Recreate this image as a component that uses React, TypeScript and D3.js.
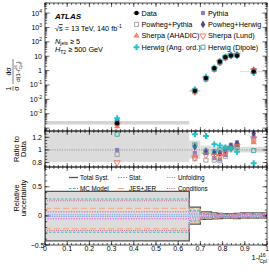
import React from 'react'
import * as d3 from 'd3'

// bin edges of 1-l (x axis)
const edges = [0, 0.65, 0.7, 0.75, 0.775, 0.8, 0.825, 0.85, 0.88, 1.0]
const dataVals = [2.2e-4, 0.039, 0.3, 1.45, 4.2, 8.5, 11, 11, 0.85]

// ratio MC / data
const pythia = [1.0, 0.95, 0.95, 0.87, 0.85, 0.92, 1.08, 1.12, 1.2]
const powhegPythia = [0.93, 0.86, 0.84, 0.84, 0.83, 0.9, 1.05, 1.08, 1.15]
const sherpaAhadic = [0.6, 0.9, 0.97, 0.95, 0.93, 0.97, 1.05, 1.08, 1.12]
const powhegHerwig = [1.4, 1.05, 0.98, 0.96, 0.95, 1.0, 1.06, 1.1, 1.26]
const sherpaLund = [0.8, 0.88, 0.92, 0.9, 0.9, 0.95, 1.02, 1.06, 1.18]
const herwigAng = [2.2, 1.25, 1.22, 1.09, 1.07, 1.04, 1.02, 0.97, 0.79]
const herwigDipole = [1.25, 1.08, 0.98, 0.97, 1.0, 1.03, 1.03, 1.04, 0.99]

// relative uncertainties per bin
const totUp = [0.42, 0.15, 0.07, 0.05, 0.045, 0.04, 0.04, 0.045, 0.05]
const totDn = [0.43, 0.14, 0.06, 0.05, 0.045, 0.04, 0.04, 0.045, 0.04]
const bandDn = [0.19, 0.14, 0.06, 0.05, 0.045, 0.04, 0.04, 0.045, 0.04]
const statUp = [0.07, 0.035, 0.02, 0.015, 0.012, 0.01, 0.01, 0.012, 0.015]
const statDn = [0.05, 0.035, 0.02, 0.015, 0.012, 0.01, 0.01, 0.012, 0.015]
const unfUp = [0.02, 0.015, 0.01, 0.008, 0.008, 0.008, 0.008, 0.008, 0.01]
const unfDn = [0.01, 0.015, 0.01, 0.008, 0.008, 0.008, 0.008, 0.008, 0.01]
const mcUp = [0.29, 0.09, 0.04, 0.03, 0.025, 0.025, 0.025, 0.03, 0.035]
const mcDn = [0.28, 0.09, 0.04, 0.03, 0.025, 0.025, 0.025, 0.03, 0.03]
const jesUp = [0.13, 0.12, 0.05, 0.04, 0.035, 0.03, 0.03, 0.035, 0.04]
const jesDn = [0.22, 0.12, 0.05, 0.04, 0.035, 0.03, 0.03, 0.035, 0.035]
const condUp = [0.26, 0.07, 0.03, 0.02, 0.02, 0.02, 0.02, 0.02, 0.025]
const condDn = [0.25, 0.07, 0.03, 0.02, 0.02, 0.02, 0.02, 0.02, 0.025]

const topTicks = [-3, -2, -1, 0, 1, 2, 3, 4]
const ratioTicks = [0.8, 1, 1.2]
const uncTicks = [-0.5, 0, 0.5]
const xTickLabels = [0, 0.1, 0.2, 0.3, 0.4, 0.5, 0.6, 0.7, 0.8, 0.9, 1]

const FONT = "'Liberation Sans', Arial, sans-serif"
const X0 = 45, X1 = 267
const TOP = [3, 131], RAT = [131, 167], UNC = [167, 245]

const x = d3.scaleLinear().domain([0, 1]).range([X0, X1])
const yTop = d3.scaleLog().domain([Math.pow(10, -4.2), Math.pow(10, 4.7)]).range([TOP[1], TOP[0]])
const yRat = d3.scaleLinear().domain([0.73, 1.3]).range([RAT[1], RAT[0]])
const yUnc = d3.scaleLinear().domain([-0.5, 0.84]).range([UNC[1], UNC[0]])

const centers = edges.slice(0, -1).map((e, i) => (e + edges[i + 1]) / 2)

type Kind = 'data' | 'sqFill' | 'sqOpen' | 'triFill' | 'diamond' | 'triDown' | 'cross' | 'sqTeal'

const models: { name: string; vals: number[]; kind: Kind }[] = [
  { name: 'Pythia', vals: pythia, kind: 'sqFill' },
  { name: 'Powheg+Pythia', vals: powhegPythia, kind: 'sqOpen' },
  { name: 'Sherpa (AHADIC)', vals: sherpaAhadic, kind: 'triFill' },
  { name: 'Powheg+Herwig', vals: powhegHerwig, kind: 'diamond' },
  { name: 'Sherpa (Lund)', vals: sherpaLund, kind: 'triDown' },
  { name: 'Herwig (Ang. ord.)', vals: herwigAng, kind: 'cross' },
  { name: 'Herwig (Dipole)', vals: herwigDipole, kind: 'sqTeal' },
]

const legendCols: [string, Kind][][] = [
  [['Data', 'data'], ['Powheg+Pythia', 'sqOpen'], ['Sherpa (AHADIC)', 'triFill'], ['Herwig (Ang. ord.)', 'cross']],
  [['Pythia', 'sqFill'], ['Powheg+Herwig', 'diamond'], ['Sherpa (Lund)', 'triDown'], ['Herwig (Dipole)', 'sqTeal']],
]

const sq = d3.symbol().type(d3.symbolSquare).size(17)()
const tri = d3.symbol().type(d3.symbolTriangle).size(17)()
const dia = d3.symbol().type(d3.symbolDiamond).size(18)()
const crs = d3.symbol().type(d3.symbolCross).size(20)()

function Marker({ kind, cx, cy }: { kind: Kind; cx: number; cy: number }) {
  const t = `translate(${cx},${cy})`
  switch (kind) {
    case 'data':
      return <circle cx={cx} cy={cy} r={2.2} fill="#000" />
    case 'sqFill':
      return <path d={sq!} transform={t} fill="#8e7cc3" />
    case 'sqOpen':
      return <path d={sq!} transform={t} fill="none" stroke="#9a9a9a" strokeWidth={0.9} />
    case 'triFill':
      return <path d={tri!} transform={t} fill="#f4826e" />
    case 'diamond':
      return <path d={dia!} transform={t} fill="#54468a" />
    case 'triDown':
      return <path d={tri!} transform={t + ' rotate(180)'} fill="none" stroke="#f2705c" strokeWidth={0.9} />
    case 'cross':
      return <path d={crs!} transform={t} fill="#22c3cc" />
    case 'sqTeal':
      return <path d={sq!} transform={t} fill="none" stroke="#3aa3a3" strokeWidth={0.9} />
  }
}

function XTicks({ y0, y1 }: { y0: number; y1: number }) {
  const minor = d3.range(0, 1.0001, 0.02)
  const major = d3.range(0, 1.0001, 0.1)
  return (
    <g stroke="#000" strokeWidth={0.6}>
      {minor.map((v, i) => (
        <g key={'m' + i}>
          <line x1={x(v)} x2={x(v)} y1={y1} y2={y1 - 2} />
          <line x1={x(v)} x2={x(v)} y1={y0} y2={y0 + 2} />
        </g>
      ))}
      {major.map((v, i) => (
        <g key={'M' + i}>
          <line x1={x(v)} x2={x(v)} y1={y1} y2={y1 - 4} />
          <line x1={x(v)} x2={x(v)} y1={y0} y2={y0 + 4} />
        </g>
      ))}
    </g>
  )
}

function YTicks({ vals, scale, len }: { vals: number[]; scale: (v: number) => number; len: number }) {
  return (
    <g stroke="#000" strokeWidth={0.6}>
      {vals.map((v, i) => (
        <g key={i}>
          <line x1={X0} x2={X0 + len} y1={scale(v)} y2={scale(v)} />
          <line x1={X1} x2={X1 - len} y1={scale(v)} y2={scale(v)} />
        </g>
      ))}
    </g>
  )
}

function stepLine(vals: number[], scale: (v: number) => number) {
  const pts: [number, number][] = vals.map((v, i) => [edges[i], v])
  pts.push([edges[edges.length - 1], vals[vals.length - 1]])
  return d3.line<[number, number]>().x(d => x(d[0])).y(d => scale(d[1])).curve(d3.curveStepAfter)(pts) || ''
}

const uncComps = [
  { name: 'Stat.', up: statUp, dn: statDn, color: '#ee44ee', dash: '1.3,1.3', w: 1 },
  { name: 'Unfolding', up: unfUp, dn: unfDn, color: '#7fa8d8', dash: '1.3,1', w: 1 },
  { name: 'MC Model', up: mcUp, dn: mcDn, color: '#3fb8b8', dash: '2.5,1.5', w: 1 },
  { name: 'JES+JER', up: jesUp, dn: jesDn, color: '#f7a777', dash: '6,3', w: 1 },
  { name: 'Conditions', up: condUp, dn: condDn, color: '#c0609a', dash: '1,1.2', w: 1 },
]

export default function App() {
  const logMajor = d3.range(-4, 5).map(e => Math.pow(10, e))
  const logMinor: number[] = []
  d3.range(-5, 5).forEach(e => d3.range(2, 10).forEach(k => {
    const v = k * Math.pow(10, e)
    if (v > yTop.domain()[0] && v < yTop.domain()[1]) logMinor.push(v)
  }))
  const ratMinor = d3.range(0.75, 1.3, 0.05)
  const uncMinor = d3.range(-0.5, 0.84, 0.1)

  const totArea = d3.area<number>()
    .x((d, i) => x(i < dataVals.length ? edges[i] : edges[edges.length - 1]))
    .y0((d, i) => yUnc(-totDn[Math.min(i, totDn.length - 1)]))
    .y1((d, i) => yUnc(totUp[Math.min(i, totUp.length - 1)]))
    .curve(d3.curveStepAfter)(d3.range(dataVals.length + 1)) || ''

  const txt = { fontFamily: FONT, fill: '#000' }

  return (
    <svg width={269} height={274} style={{ position: 'absolute', left: 0, top: 0, background: '#fff' }}>
      <defs>
        <clipPath id="cTop"><rect x={X0} y={TOP[0]} width={X1 - X0} height={TOP[1] - TOP[0]} /></clipPath>
        <clipPath id="cRat"><rect x={X0} y={RAT[0]} width={X1 - X0} height={RAT[1] - RAT[0]} /></clipPath>
        <clipPath id="cUnc"><rect x={X0} y={UNC[0]} width={X1 - X0} height={UNC[1] - UNC[0]} /></clipPath>
      </defs>

      {/* top panel */}
      <g clipPath="url(#cTop)">
        {dataVals.map((d, i) => (
          <rect key={i} x={x(edges[i])} width={x(edges[i + 1]) - x(edges[i])}
            y={yTop(d * (1 + totUp[i]))} height={Math.max(0.8, yTop(d * (1 - bandDn[i])) - yTop(d * (1 + totUp[i])))}
            fill="#d4d4d4" />
        ))}
        {models.map(m => m.vals.map((r, i) => (
          <Marker key={m.name + i} kind={m.kind} cx={x(centers[i])} cy={yTop(dataVals[i] * r)} />
        )))}
        {dataVals.map((d, i) => (
          <g key={'d' + i}>
            <line x1={x(centers[i])} x2={x(centers[i])} y1={yTop(d * (1 + totUp[i]))} y2={yTop(d * (1 - bandDn[i]))} stroke="#000" strokeWidth={0.7} />
            <Marker kind="data" cx={x(centers[i])} cy={yTop(d)} />
          </g>
        ))}
      </g>

      {/* ratio panel */}
      <g clipPath="url(#cRat)">
        {dataVals.map((d, i) => (
          <rect key={i} x={x(edges[i])} width={x(edges[i + 1]) - x(edges[i])}
            y={yRat(1 + totUp[i])} height={yRat(1 - bandDn[i]) - yRat(1 + totUp[i])} fill="#dcdcdc" />
        ))}
        <line x1={X0} x2={X1} y1={yRat(1)} y2={yRat(1)} stroke="#888" strokeWidth={0.8} strokeDasharray="1.2,1.2" />
        {models.map(m => m.vals.map((r, i) => (
          <Marker key={m.name + i} kind={m.kind} cx={x(centers[i])} cy={yRat(r)} />
        )))}
      </g>

      {/* uncertainty panel */}
      <g clipPath="url(#cUnc)">
        <path d={totArea} fill="#dcdcdc" stroke="#555" strokeWidth={1.3} />
        {uncComps.map(c => (
          <g key={c.name} fill="none" stroke={c.color} strokeWidth={c.w} strokeDasharray={c.dash}>
            <path d={stepLine(c.up, yUnc)} />
            <path d={stepLine(c.dn.map(v => -v), yUnc)} />
          </g>
        ))}
      </g>

      {/* frames and ticks */}
      {[TOP, RAT, UNC].map((p, i) => (
        <g key={i}>
          <rect x={X0} y={p[0]} width={X1 - X0} height={p[1] - p[0]} fill="none" stroke="#000" strokeWidth={0.7} />
          <XTicks y0={p[0]} y1={p[1]} />
        </g>
      ))}
      <YTicks vals={logMinor} scale={yTop} len={2.2} />
      <YTicks vals={logMajor} scale={yTop} len={4.5} />
      <YTicks vals={ratMinor} scale={yRat} len={2.2} />
      <YTicks vals={ratioTicks} scale={yRat} len={4.5} />
      <YTicks vals={uncMinor} scale={yUnc} len={2.2} />
      <YTicks vals={uncTicks} scale={yUnc} len={4.5} />

      {/* tick labels */}
      <g {...txt} fontSize={7} textAnchor="end">
        {topTicks.map(e => (
          <text key={e} x={42} y={yTop(Math.pow(10, e)) + 2.5}>
            {e === 0 ? '1' : e === 1 ? '10' : <>10<tspan dy={-3} fontSize={5}>{e}</tspan></>}
          </text>
        ))}
        {ratioTicks.map(v => (
          <text key={v} x={42} y={yRat(v) + 2.5}>{v === 1 ? '1' : v.toFixed(1)}</text>
        ))}
        {uncTicks.map(v => (
          <text key={v} x={v === -0.5 ? 44.5 : 42} y={yUnc(v) + 2.5}>{v === 0 ? '0' : v < 0 ? '\u22120.5' : '0.5'}</text>
        ))}
      </g>
      <g {...txt} fontSize={7} textAnchor="middle">
        {xTickLabels.map(v => (
          <text key={v} x={x(v)} y={251}>{v === 0 ? '0' : v === 1 ? '1' : String(v)}</text>
        ))}
      </g>
      <text {...txt} fontSize={7.5} x={267} y={260} textAnchor="end">
        1-<tspan fontStyle="italic">l</tspan><tspan dy={-3.5} fontSize={5}>16</tspan><tspan dx={-6} dy={6} fontSize={5}>Cpl</tspan>
      </text>

      {/* axis titles */}
      <g transform="translate(13,75) rotate(-90)" {...txt} fontSize={7}>
        <text x={-13.5} y={-1.8} textAnchor="middle">1</text>
        <line x1={-16} x2={-11} y1={0} y2={0} stroke="#000" strokeWidth={0.5} />
        <text x={-13.5} y={6} textAnchor="middle">σ</text>
        <text x={3.5} y={-1.8} textAnchor="middle">dσ</text>
        <line x1={-9} x2={16} y1={0} y2={0} stroke="#000" strokeWidth={0.5} />
        <text x={3.5} y={6.5} textAnchor="middle" fontSize={6}>
          d(1-<tspan fontStyle="italic">l</tspan><tspan dy={-2.5} fontSize={4}>16</tspan><tspan dx={-4} dy={4.5} fontSize={4}>Cpl</tspan><tspan dy={-2}>)</tspan>
        </text>
      </g>
      <g {...txt} fontSize={7.5} textAnchor="middle">
        <text transform="translate(18.5,149) rotate(-90)">Ratio to</text>
        <text transform="translate(26,149) rotate(-90)">Data</text>
        <text transform="translate(18.5,198) rotate(-90)">Relative</text>
        <text transform="translate(26,198) rotate(-90)">uncertainty</text>
      </g>

      {/* ATLAS label */}
      <g {...txt}>
        <text x={55} y={18.5} fontSize={8} fontWeight="bold" fontStyle="italic">ATLAS</text>
        <text x={55} y={31} fontSize={7.3}>√<tspan textDecoration="overline">s</tspan> = 13 TeV, 140 fb<tspan dy={-3} fontSize={5}>-1</tspan></text>
        <text x={55} y={43.5} fontSize={7.3}><tspan fontStyle="italic">N</tspan><tspan dy={1.8} fontSize={5}>jets</tspan><tspan dy={-1.8}> ≥ 5</tspan></text>
        <text x={55} y={52} fontSize={7.3}><tspan fontStyle="italic">H</tspan><tspan dy={1.8} fontSize={5}>T2</tspan><tspan dy={-1.8}> ≥ 500 GeV</tspan></text>
      </g>

      {/* top legend */}
      <g {...txt} fontSize={7.3}>
        {legendCols.map((col, ci) => col.map(([name, kind], ri) => {
          const mx = ci === 0 ? 136.5 : 203
          const yy = 13 + ri * 11.4
          return (
            <g key={name}>
              {kind === 'data' && <line x1={mx - 3} x2={mx + 3} y1={yy} y2={yy} stroke="#000" strokeWidth={0.6} />}
              <Marker kind={kind} cx={mx} cy={yy} />
              <text x={mx + 5} y={yy + 2.5}>{name}</text>
            </g>
          )
        }))}
      </g>

      {/* uncertainty legend */}
      <g {...txt} fontSize={6.3}>
        {[
          { name: 'Total Syst.', color: '#555', dash: '', w: 1.3, lx: 69, ly: 177.5 },
          { name: 'Stat.', color: '#ee44ee', dash: '1.3,1.3', w: 1, lx: 118, ly: 177.5 },
          { name: 'Unfolding', color: '#7fa8d8', dash: '1.3,1', w: 1, lx: 167, ly: 177.5 },
          { name: 'MC Model', color: '#3fb8b8', dash: '2.5,1.5', w: 1, lx: 69, ly: 188.5 },
          { name: 'JES+JER', color: '#f7a777', dash: '6,3', w: 1, lx: 118, ly: 188.5 },
          { name: 'Conditions', color: '#c0609a', dash: '1,1.2', w: 1, lx: 167, ly: 188.5 },
        ].map(l => (
          <g key={l.name}>
            <line x1={l.lx} x2={l.lx + 9} y1={l.ly} y2={l.ly} stroke={l.color} strokeWidth={l.w} strokeDasharray={l.dash || undefined} />
            <text x={l.lx + 11} y={l.ly + 2.2}>{l.name}</text>
          </g>
        ))}
      </g>
    </svg>
  )
}
